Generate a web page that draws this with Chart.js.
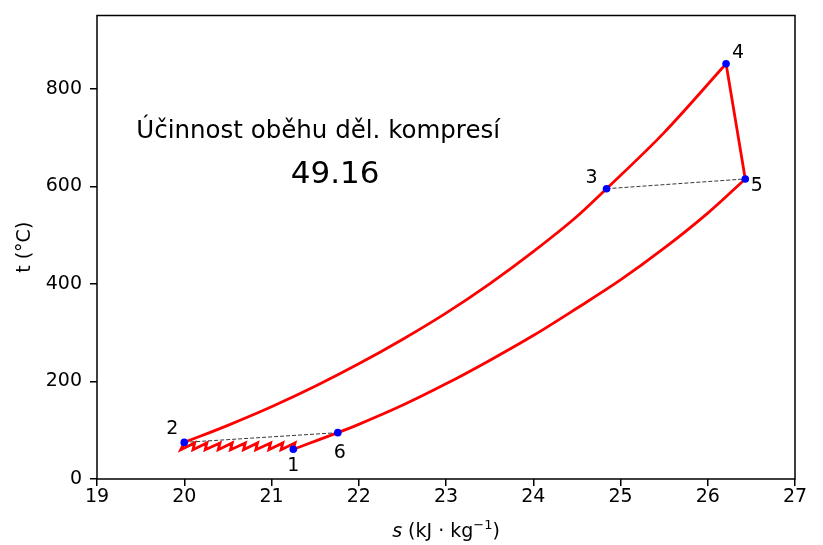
<!DOCTYPE html>
<html>
<head>
<meta charset="utf-8">
<script src="https://cdn.jsdelivr.net/npm/chart.js@4"></script>
<style>
  html, body { margin: 0; padding: 0; background: #fff; }
  canvas { display: block; }
</style>
</head>
<body>
<canvas id="cycle" width="823" height="545"></canvas>
<script>
// cycle states: s (kJ/kg K), t (°C)
const stateNames = ['1', '2', '3', '4', '5', '6'];
const stateS = [21.25, 20.00, 24.84, 26.21, 26.43, 21.76];
const stateT = [61, 75, 595, 851, 615, 95];

// intercooled compression 1 -> 2
const compS = [21.25, 21.27, 21.11, 21.13, 20.97, 20.99, 20.82, 20.84, 20.68, 20.70,
               20.53, 20.55, 20.39, 20.41, 20.24, 20.26, 20.10, 20.12, 19.96, 20.00];
const compT = [61, 74, 60, 74, 60, 74, 60, 74, 60, 74,
               60, 74, 60, 74, 60, 74, 60, 74, 60, 75];

// high pressure isobar 2 -> 3 -> 4
const highS = [20.00, 20.50, 21.00, 21.50, 22.00, 22.50, 23.00, 23.50, 24.00, 24.50, 24.84, 25.50, 26.21];
const highT = [75, 110, 148, 190, 236, 286, 340, 400, 466, 538, 595, 710, 851];

// expansion 4 -> 5
const expS = [26.21, 26.43];
const expT = [851, 615];

// low pressure isobar 1 -> 6 -> 5
const lowS = [21.25, 21.76, 22.00, 22.50, 23.00, 23.50, 24.00, 24.50, 25.00, 25.50, 26.00, 26.43];
const lowT = [61, 95, 112, 151, 195, 243, 294, 350, 408, 473, 545, 615];

const xTicks = [19, 20, 21, 22, 23, 24, 25, 26, 27];
const yTicks = [0, 200, 400, 600, 800];

const effTitle = 'Účinnost oběhu děl. kompresí';
const effValue = '49.16';

const pts = (xs, ys) => xs.map((v, i) => ({x: v, y: ys[i]}));
const pair = (a, b) => [{x: stateS[a], y: stateT[a]}, {x: stateS[b], y: stateT[b]}];

const red = {showLine: true, borderColor: '#ff0000', borderWidth: 2.8, pointRadius: 0, fill: false};
const dashed = {showLine: true, borderColor: '#222', borderWidth: 0.9, borderDash: [4, 2], pointRadius: 0};

// label offsets in px from the state point
const labelOffsets = [[0, 17], [-12, -13], [-15, -11], [12, -11], [11.5, 7], [2, 20]];

const decor = {
    id: 'decor',
    afterDraw(chart) {
        const {ctx, chartArea: a, scales: {x, y}} = chart;
        ctx.save();
        ctx.strokeStyle = '#000';
        ctx.lineWidth = 1.5;
        ctx.strokeRect(a.left, a.top, a.right - a.left, a.bottom - a.top);

        ctx.fillStyle = '#000';
        ctx.font = '19px "DejaVu Sans"';
        ctx.textAlign = 'center';
        ctx.textBaseline = 'middle';
        stateNames.forEach((n, i) => {
            const [dx, dy] = labelOffsets[i];
            ctx.fillText(n, x.getPixelForValue(stateS[i]) + dx, y.getPixelForValue(stateT[i]) + dy);
        });

        ctx.textAlign = 'left';
        ctx.textBaseline = 'alphabetic';
        ctx.font = '24.5px "DejaVu Sans"';
        ctx.fillText(effTitle, x.getPixelForValue(19.45), y.getPixelForValue(699));
        ctx.font = '31px "DejaVu Sans"';
        ctx.fillText(effValue, x.getPixelForValue(21.22), y.getPixelForValue(607));

        // x axis label with italic s and superscript
        const parts = [
            ['italic 19px "DejaVu Sans"', 's', 0],
            ['19px "DejaVu Sans"', ' (kJ · kg', 0],
            ['13px "DejaVu Sans"', '−1', -8],
            ['19px "DejaVu Sans"', ')', 0]
        ];
        let w = 0;
        parts.forEach(p => { ctx.font = p[0]; w += ctx.measureText(p[1]).width; });
        let px = (a.left + a.right) / 2 - w / 2;
        parts.forEach(p => {
            ctx.font = p[0];
            ctx.fillText(p[1], px, 537 + p[2]);
            px += ctx.measureText(p[1]).width;
        });
        ctx.restore();
    }
};

Chart.defaults.font.family = '"DejaVu Sans"';
Chart.defaults.color = '#000';

new Chart(document.getElementById('cycle'), {
    type: 'scatter',
    data: {
        datasets: [
            {data: pts(stateS, stateT), pointRadius: 3.8, pointBackgroundColor: '#0000ff',
             pointBorderWidth: 0, showLine: false},
            {...dashed, data: pair(1, 5)},
            {...dashed, data: pair(2, 4)},
            {...red, data: pts(compS, compT)},
            {...red, data: pts(highS, highT), cubicInterpolationMode: 'monotone'},
            {...red, data: pts(expS, expT)},
            {...red, data: pts(lowS, lowT), cubicInterpolationMode: 'monotone'}
        ]
    },
    options: {
        responsive: false,
        animation: false,
        layout: {padding: {top: 15.5, right: 28, left: 0, bottom: 0}},
        plugins: {
            legend: {display: false},
            tooltip: {enabled: false}
        },
        scales: {
            x: {
                type: 'linear',
                min: 19,
                max: 27,
                afterBuildTicks: s => { s.ticks = xTicks.map(v => ({value: v})); },
                afterFit: s => { s.height = 66; },
                border: {display: false},
                grid: {drawOnChartArea: false, drawTicks: true, tickLength: 7, color: '#000', lineWidth: 1.5},
                ticks: {font: {size: 19}, padding: 0, maxRotation: 0}
            },
            y: {
                type: 'linear',
                min: 0,
                max: 950,
                afterBuildTicks: s => { s.ticks = yTicks.map(v => ({value: v})); },
                afterFit: s => { s.width = 97; s.paddingTop = 0; s.paddingBottom = 0; },
                border: {display: false},
                grid: {drawOnChartArea: false, drawTicks: true, tickLength: 7, color: '#000', lineWidth: 1.5},
                ticks: {font: {size: 19}, padding: 8},
                title: {display: true, text: 't (°C)', font: {size: 19}, padding: {top: 14, bottom: 0}}
            }
        }
    },
    plugins: [decor]
});
</script>
</body>
</html>
